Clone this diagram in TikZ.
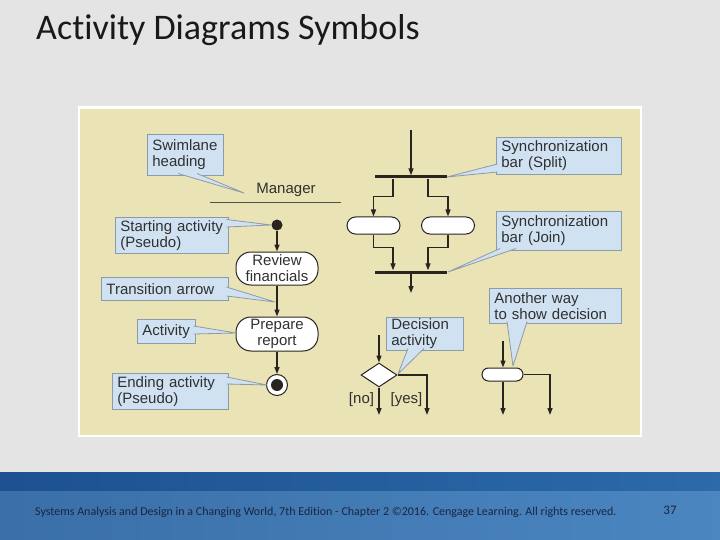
\documentclass[tikz,border=0pt]{standalone}
\usepackage{fontspec}
\setmainfont{Carlito}[Ligatures=NoCommon]
\newfontfamily\labfont{Liberation Sans}
\usetikzlibrary{arrows.meta,shapes.geometric}
\definecolor{bgcol}{HTML}{E4E4E4}
\definecolor{paneltan}{HTML}{EAE3B6}
\definecolor{cfill}{HTML}{D0E2F2}
\definecolor{cborder}{HTML}{8C9BA8}
\definecolor{ctext}{HTML}{303030}
\definecolor{ink}{HTML}{2A2420}
\definecolor{bandA}{HTML}{1D5190}
\definecolor{bandB}{HTML}{2C6AAA}
\definecolor{bandC}{HTML}{3A6FA9}
\definecolor{bandD}{HTML}{4B86C0}
\definecolor{foottext}{HTML}{1A2540}
\newcommand\callptr[3]{%
  \fill[cfill] (#1) -- (#3) -- (#2) -- cycle;
  \draw[cborder, line width=0.8pt, line join=round] (#1) -- (#3) -- (#2);}
\begin{document}
\begin{tikzpicture}[x=1pt,y=-1pt,
  lab/.style={font=\labfont\fontsize{15}{16}\selectfont, text=ctext},
  cbox/.style={lab, draw=cborder, fill=cfill, line width=0.8pt, rectangle,
    inner xsep=5pt, inner ysep=0pt, align=left, anchor=north west},
  act/.style={lab, draw=ink, fill=white, rectangle, rounded corners=15pt,
    line width=1pt, align=center, inner sep=0pt, minimum width=82pt},
  oval/.style={draw=ink, fill=white, rectangle, line width=1pt, inner sep=0pt},
  flow/.style={draw=ink, line width=1.3pt, -{Triangle[length=7pt,width=5pt]}},
  barnode/.style={fill=ink, rectangle, inner sep=0pt, minimum width=72pt, minimum height=3pt},
]
\useasboundingbox (0,0) rectangle (720,540);
% background
\fill[bgcol] (0,0) rectangle (720,472);
\shade[left color=bandA, right color=bandB] (0,472) rectangle (720,491);
\shade[left color=bandC, right color=bandD] (0,491) rectangle (720,540);
% title
\node[anchor=base west, inner sep=0pt, font=\fontsize{36}{40}\selectfont, text=black!90] (title) at (36,40) {Activity Diagrams Symbols};
% footer
\node[anchor=base west, inner sep=0pt, font=\fontsize{12}{14}\selectfont, text=foottext] (foot) at (35,515)
  {Systems Analysis and Design in a Changing World, 7th Edition - Chapter 2 \textcopyright2016. Cengage Learning. All rights reserved.};
\node[anchor=base, inner sep=0pt, font=\fontsize{13}{15}\selectfont, text=foottext] (pnum) at (670,514) {37};
% panel
\fill[white] (78,106) rectangle (642,437);
\fill[paneltan] (80,109) rectangle (640,435);

% ---------- left column ----------
\node[lab, inner sep=0pt] (mgr) at (286,190) {Manager};
\coordinate (laneL) at (210,202);
\coordinate (laneR) at (341,202);
\draw[ink!80, line width=0.7pt] (laneL) -- (laneR);

\node[circle, fill=ink, minimum size=11pt, inner sep=0pt] (start) at (277,225) {};
\node[act, minimum height=33pt] (review) at (277,268.5) {Review\\financials};
\node[act, minimum height=34pt] (prep) at (277,334) {Prepare\\report};
\node[circle, draw=ink, fill=white, line width=1pt, minimum size=21pt, inner sep=0pt] (endo) at (277,385) {};
\node[circle, fill=ink, minimum size=12pt, inner sep=0pt] (endi) at (277,385) {};

\draw[flow] (start) -- (review);
\draw[flow] (review) -- (prep);
\draw[flow] (prep) -- (endo);

% callouts left
\node[cbox, text width=66pt, minimum height=41pt] (cswim) at (147,134) {Swimlane\\heading};
\node[cbox, text width=103pt, minimum height=36pt] (cstart) at (115,217) {Starting activity\\(Pseudo)};
\node[cbox, text width=117pt, minimum height=23pt] (ctrans) at (101,277) {Transition arrow};
\node[cbox, text width=48pt, minimum height=24pt] (cact) at (137,319) {Activity};
\node[cbox, text width=106pt, minimum height=36pt] (cend) at (112,373) {Ending activity\\(Pseudo)};

\coordinate (swA) at (178,173.5); \coordinate (swB) at (197,173.5); \coordinate (swT) at (244,193);
\callptr{swA}{swB}{swT}
\coordinate (stA) at (226.5,219.5); \coordinate (stB) at (226.5,227); \coordinate (stT) at (271,225);
\callptr{stA}{stB}{stT}
\coordinate (trA) at (226.5,287); \coordinate (trB) at (226.5,296); \coordinate (trT) at (275,302);
\callptr{trA}{trB}{trT}
\coordinate (acA) at (193.5,326); \coordinate (acB) at (193.5,334); \coordinate (acT) at (236,333);
\callptr{acA}{acB}{acT}
\coordinate (enA) at (226.5,377); \coordinate (enB) at (226.5,384); \coordinate (enT) at (267,385);
\callptr{enA}{enB}{enT}

% ---------- fork / join ----------
\coordinate (splitin) at (411,130);
\node[barnode] (split) at (411,177) {};
\node[oval, rounded corners=8.5pt, minimum width=53pt, minimum height=17pt] (ovl) at (373.5,225.5) {};
\node[oval, rounded corners=8.5pt, minimum width=53pt, minimum height=17pt] (ovr) at (448,225.5) {};
\node[barnode] (join) at (411,272) {};
\coordinate (joinout) at (411,293);

\draw[flow] (splitin) -- (split.north);
\draw[flow] ([xshift=-18pt]split.south) -- ++(0,17.5) -| (ovl.north);
\draw[flow] ([xshift=17pt]split.south) -- ++(0,17.5) -| (ovr.north);
\draw[flow] (ovl.south) -- ++(0,13) -| ([xshift=-18pt]join.north);
\draw[flow] (ovr.south) -- ++(0,13) -| ([xshift=17pt]join.north);
\draw[flow] (join.south) -- (joinout);

\node[cbox, text width=115pt, minimum height=37pt] (csplit) at (496,137) {Synchronization\\bar (Split)};
\node[cbox, text width=115pt, minimum height=39pt] (cjoin) at (496,211) {Synchronization\\bar (Join)};
\coordinate (spA) at (497.5,164); \coordinate (spB) at (497.5,172); \coordinate (spT) at (447,177);
\callptr{spA}{spB}{spT}
\coordinate (jnA) at (500,248.5); \coordinate (jnB) at (516,248.5); \coordinate (jnT) at (448,272);
\callptr{jnA}{jnB}{jnT}

% ---------- decision ----------
\coordinate (decin) at (379,335);
\node[diamond, draw=ink, fill=white, line width=1pt, inner sep=0pt, minimum width=36pt, minimum height=24pt] (dec) at (379,375) {};
\coordinate (noend) at (379,415);
\coordinate (yesend) at (427,415);
\draw[flow] (decin) -- (dec.north);
\draw[flow] (dec.south) -- (noend);
\draw[flow] (dec.east) -| (yesend);
\node[lab, inner sep=0pt] (no) at (361.5,400) {[no]};
\node[lab, inner sep=0pt] (yes) at (406.5,400) {[yes]};

\node[cbox, text width=67pt, minimum height=33pt] (cdec) at (386,317) {Decision\\activity};
\coordinate (dcA) at (408,348.5); \coordinate (dcB) at (424,348.5); \coordinate (dcT) at (398,374);
\callptr{dcA}{dcB}{dcT}

% ---------- alternative decision ----------
\coordinate (altin) at (503,341);
\node[oval, rounded corners=6.5pt, minimum width=41pt, minimum height=13pt] (alt) at (502.5,374.5) {};
\coordinate (altA) at (503,415);
\coordinate (altB) at (550,415);
\draw[flow] (altin) -- (altin |- alt.north);
\draw[flow] (altin |- alt.south) -- (altA);
\draw[flow] (alt.east) -| (altB);

\node[cbox, text width=122pt, minimum height=35pt] (calt) at (489,288) {Another way\\to show decision};
\coordinate (alA) at (507,321.5); \coordinate (alB) at (527,321.5); \coordinate (alT) at (513,366);
\callptr{alA}{alB}{alT}
\end{tikzpicture}
\end{document}
